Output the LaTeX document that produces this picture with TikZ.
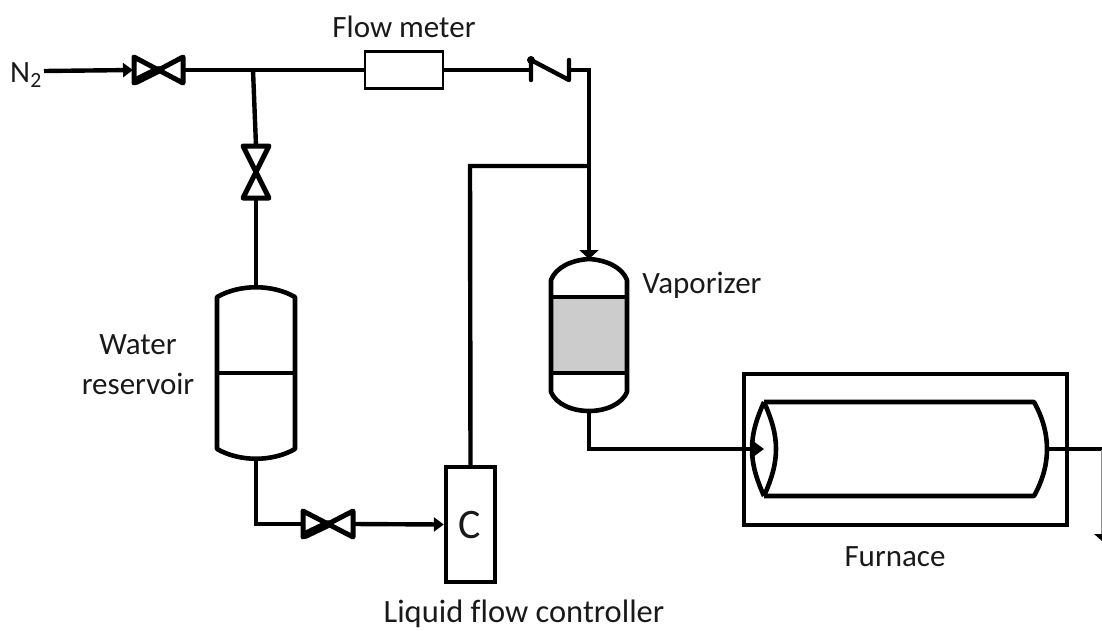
\documentclass[tikz,border=0pt]{standalone}
\usepackage{fontspec}
\setmainfont{Carlito}
\usetikzlibrary{arrows.meta}
\tikzset{
  pipe/.style={line width=4.4pt,line join=miter,black},
  flowto/.style={pipe,-{Triangle[length=10pt,width=14pt]}},
  flowwide/.style={pipe,-{Triangle[length=9pt,width=19pt]}},
  vessel/.style={line width=4.6pt,line join=round,black},
  valveline/.style={line width=5pt,line join=round,black},
  heavy/.style={line width=8pt,line cap=round,black},
  label/.style={font=\fontsize{31}{34}\selectfont,text=black!90,inner sep=0pt,align=center},
  boxnode/.style={draw=black,line width=4.4pt,inner sep=0pt,fill=white}
}
\begin{document}
\begin{tikzpicture}[x=1pt,y=-1pt]
\useasboundingbox (0,0) rectangle (1102,630);
% labels
\node[label] (n2) at (26,75) {N\textsubscript{2}};
\node[label] (fmlabel) at (404,27) {Flow meter};
\node[label] (vaplabel) at (702,285) {Vaporizer};
\node[label] (reslabel) at (138,365) {Water\\[6pt]reservoir};
\node[label] (furlabel) at (895,557) {Furnace};
\node[label,font=\fontsize{32.5}{34}\addfontfeature{Ligatures=NoCommon}\selectfont] (lfclabel) at (524,614) {Liquid flow controller};
% coordinates
\coordinate (n2end) at (44,71);
\coordinate (v1w) at (133,70);
\coordinate (v1c) at (158,70);
\coordinate (v1e) at (184,70);
\coordinate (tee1) at (253,70);
\coordinate (v2n) at (256,146);
\coordinate (v2c) at (256,172);
\coordinate (v2s) at (256,198);
\coordinate (restop) at (256,288);
\coordinate (resbot) at (256,459);
\coordinate (elb1) at (256,524);
\coordinate (v3w) at (302,524);
\coordinate (v3c) at (328,524);
\coordinate (v3e) at (354,524);
\coordinate (cv1) at (531,70);
\coordinate (cv2) at (569,70);
\coordinate (elb2) at (589,70);
\coordinate (tee2) at (589,166);
\coordinate (elb3) at (470,166);
\coordinate (vaptop) at (589,259);
\coordinate (vapbot) at (589,411);
\coordinate (elb4) at (589,449);
\coordinate (tubein) at (764,449);
\coordinate (tubeout) at (1047,449);
\coordinate (exit) at (1102,449);
% flow meter and controller
\node[boxnode,line width=2.6pt,minimum width=78pt,minimum height=37pt] (fm) at (404,70) {};
\node[boxnode,minimum width=49pt,minimum height=115pt] (lfc) at (470.5,524.5) {};
\node[font=\fontsize{42}{44}\selectfont,text=black!90,inner sep=0pt] (lfcc) at (470,525) {C};
% furnace
\node[draw=black,line width=4.6pt,inner sep=0pt,minimum width=323pt,minimum height=151pt] (furnace) at (905.5,449.5) {};
% tube
\draw[vessel] (764,402) -- (1034,402) .. controls (1044,420) and (1047,436) .. (tubeout) .. controls (1047,462) and (1044,478) .. (1034,496) -- (764,496);
\draw[vessel] (764,402) .. controls (756,420) and (752,434) .. (752,449) .. controls (752,464) and (756,478) .. (764,496);
\draw[vessel] (764,402) .. controls (772,420) and (776,434) .. (776,449) .. controls (776,464) and (772,478) .. (764,496);
% connectors
\draw[flowto] (n2end) -- (v1w);
\draw[pipe] (v1e) -- (fm.west);
\draw[pipe] (tee1) -- (v2n);
\draw[pipe] (v2s) -- (restop);
\draw[pipe] (resbot) -- (elb1) -- (v3w);
\draw[flowto] (v3e) -- (lfc.west);
\draw[pipe] (lfc.north) -- (elb3) -- (tee2);
\draw[pipe] (fm.east) -- (cv1);
\draw[pipe] (cv2) -- (elb2) -- (tee2);
\draw[flowwide] (tee2) -- (vaptop);
\draw[flowto] (vapbot) -- (elb4) -- (tubein);
\draw[pipe] (tubeout) -- (exit);
% valves
\draw[valveline] (134,57) -- (183,83) -- (183,57) -- (134,83) -- cycle;
\draw[heavy] (136,81) -- (v1c);
\draw[valveline] (243,146) -- (269,146) -- (243,198) -- (269,198) -- cycle;
\draw[valveline] (303,511) -- (353,537) -- (353,511) -- (303,537) -- cycle;
\draw[heavy] (305,535) -- (v3c);
% check valve
\draw[pipe,line cap=round,line join=round] (531,80) -- (531,60) -- (569,80) -- (569,60);
\fill (531,60) circle (4pt);
% reservoir
\draw[vessel] (217,297) .. controls (240,284) and (272,284) .. (295,297) -- (295,449) .. controls (272,462) and (240,462) .. (217,449) -- cycle;
\draw[vessel] (217,373) -- (295,373);
% vaporizer
\fill[black!20] (551,297) rectangle (627,373);
\draw[vessel] (551,280) .. controls (556,267) and (572,260) .. (vaptop) .. controls (606,260) and (622,267) .. (627,280) -- (627,392) .. controls (622,404) and (606,411) .. (vapbot) .. controls (572,411) and (556,404) .. (551,392) -- cycle;
\draw[vessel] (551,297) -- (627,297) (551,373) -- (627,373);
% cut-off outlet
\draw[line width=0.8pt,black!45] (1101.5,450) -- (1101.5,535);
\fill (1094,534) -- (1102,534) -- (1102,541) -- cycle;
\end{tikzpicture}
\end{document}
